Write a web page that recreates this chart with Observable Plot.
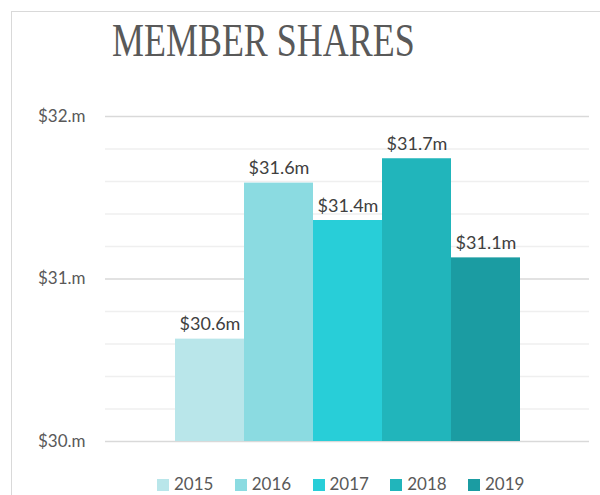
<!DOCTYPE html>
<html>
<head>
<meta charset="utf-8">
<script src="https://cdn.jsdelivr.net/npm/d3@7"></script>
<script src="https://cdn.jsdelivr.net/npm/@observablehq/plot@0.6"></script>
<style>
  html, body { margin: 0; padding: 0; background: #fff; overflow: hidden; }
  #wrap { position: relative; width: 600px; height: 495px; overflow: hidden; }
  #border { position: absolute; left: 11px; top: 11px; width: 700px; height: 600px; border: 1.5px solid #d9d9d9; box-sizing: border-box; }
  #title { position: absolute; left: 112px; top: 17px; font-family: "Liberation Serif", serif; font-size: 47px; line-height: 47px; color: #595959; white-space: nowrap; transform: scaleX(0.765); transform-origin: left top; }
  #chart { position: absolute; left: 0; top: 0; }
  #legend { position: absolute; left: 157px; top: 474px; font-family: Lato, sans-serif; font-size: 17px; color: #595959; white-space: nowrap; line-height: 20px; }
  .item { display: inline-block; width: 77.75px; }
  .sw { display: inline-block; width: 12px; height: 12px; margin-right: 5px; vertical-align: -1px; }
</style>
</head>
<body>
<div id="wrap">
  <div id="border"></div>
  <div id="chart"></div>
  <div id="title">MEMBER SHARES</div>
  <div id="legend"></div>
</div>
<script>
const years = ["2015", "2016", "2017", "2018", "2019"];
const values = [30.63, 31.59, 31.36, 31.74, 31.13];
const colors = ["#b9e6ea", "#8bdbe1", "#28ced8", "#21b5bb", "#1b9ca2"];
const majorTicks = [30, 31, 32];
const minorTicks = [30.2, 30.4, 30.6, 30.8, 31.2, 31.4, 31.6, 31.8];

const data = years.map((y, i) => ({year: y, value: values[i]}));

const chart = Plot.plot({
  width: 600,
  height: 495,
  marginTop: 116,
  marginBottom: 54,
  marginLeft: 105,
  marginRight: 11,
  style: {fontFamily: "Lato, sans-serif", background: "transparent"},
  x: {type: "band", domain: years, paddingInner: 0, paddingOuter: 1, axis: null},
  y: {domain: [30, 32], axis: null},
  color: {domain: years, range: colors},
  marks: [
    Plot.ruleY(minorTicks, {stroke: "#efefef", strokeWidth: 1.5}),
    Plot.ruleY(majorTicks, {stroke: "#d9d9d9", strokeWidth: 1.5}),
    Plot.barY(data, {x: "year", y1: 30, y2: "value", fill: "year"}),
    Plot.text(data, {x: "year", y: "value", text: d => `$${d.value.toFixed(1)}m`, lineAnchor: "bottom", dy: -9, fill: "#404040", fontSize: 18}),
    Plot.axisY({ticks: majorTicks, tickFormat: d => `$${d}.m`, tickSize: 0, tickPadding: 20, fontSize: 17, fill: "#595959", label: null})
  ]
});
document.getElementById("chart").appendChild(chart);

const legend = document.getElementById("legend");
years.forEach((y, i) => {
  const item = document.createElement("span");
  item.className = "item";
  const sw = document.createElement("span");
  sw.className = "sw";
  sw.style.background = colors[i];
  item.appendChild(sw);
  item.appendChild(document.createTextNode(y));
  legend.appendChild(item);
});
</script>
</body>
</html>
